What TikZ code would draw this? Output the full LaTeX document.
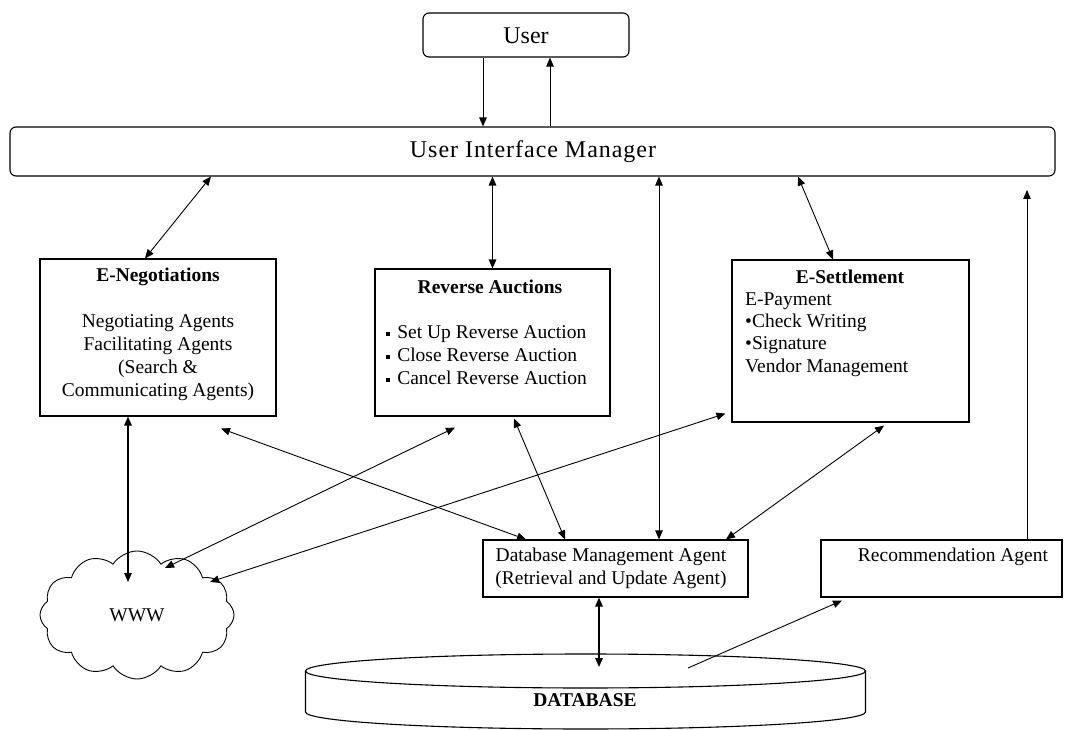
\documentclass[tikz,border=0pt]{standalone}
\usepackage{fontspec}
\setmainfont{Liberation Serif}
\usetikzlibrary{arrows.meta,shapes.symbols}
% small square bullet for the auction items
\newcommand\sqbul{\raisebox{0.28ex}{\rule{0.22em}{0.22em}}\hspace{0.35em}}
\begin{document}
\begin{tikzpicture}[x=1pt,y=-1pt,
  box/.style={draw, line width=1.1pt, inner sep=0pt},
  rbox/.style={box, rounded corners=6pt},
  txt/.style={inner sep=0pt, font=\fontsize{19.5pt}{23pt}\selectfont},
  bigtxt/.style={inner sep=0pt, font=\fontsize{24pt}{28pt}\selectfont},
  tip/.tip={Triangle[length=9pt,width=7.5pt]},
  arr/.style={-tip, line width=0.9pt},
  darr/.style={tip-tip, line width=0.9pt},
  thick arr/.style={darr, line width=1.5pt}]
\useasboundingbox (0,0) rectangle (1074,730);

% top boxes
\node[rbox, minimum width=206pt, minimum height=44pt] (user) at (526,35) {};
\node[bigtxt] at (526,36) {User};
\node[rbox, minimum width=1045pt, minimum height=49pt] (uim) at (532.5,151.5) {};
\node[bigtxt, font=\fontsize{24pt}{28pt}\selectfont\addfontfeatures{LetterSpace=4}] at (533,152) {User Interface Manager};

% agent boxes
\node[box, minimum width=236pt, minimum height=157pt] (eneg) at (158,337.5) {};
\node[txt, font=\fontsize{19.5pt}{23pt}\selectfont\bfseries] at (158,277) {E-Negotiations};
\node[txt, align=center] at (158,357.5) {Negotiating Agents\\Facilitating Agents\\(Search \&\\Communicating Agents)};

\node[box, minimum width=235pt, minimum height=147pt] (rev) at (492.5,342.5) {};
\node[txt, font=\fontsize{19.5pt}{23pt}\selectfont\bfseries] at (490,287) {Reverse Auctions};
\node[txt, align=left, anchor=west] at (386,355) {\sqbul Set Up Reverse Auction\\\sqbul Close Reverse Auction\\\sqbul Cancel Reverse Auction};

\node[box, minimum width=237pt, minimum height=162pt] (eset) at (850.5,341) {};
\node[txt, font=\fontsize{19.5pt}{23pt}\selectfont\bfseries] at (850,277) {E-Settlement};
\node[txt, align=left, anchor=west, font=\fontsize{19.5pt}{22.4pt}\selectfont] at (745,334.5) {E-Payment\\\textbullet Check Writing\\\textbullet Signature\\Vendor Management};

\node[box, minimum width=265pt, minimum height=57pt] (dba) at (615.5,568.5) {};
\node[txt, align=center] at (611,568.5) {Database Management Agent\\(Retrieval and Update Agent)};

\node[box, minimum width=241pt, minimum height=57pt] (rec) at (941.5,568.5) {};
\node[txt] at (953,557) {Recommendation Agent};

% the web
\node[draw, line width=0.9pt, cloud, cloud puffs=12, cloud puff arc=115, aspect=1.5,
      minimum width=194pt, minimum height=128pt, inner sep=0pt,
      font=\fontsize{19.5pt}{23pt}\selectfont] (www) at (137,615) {WWW};

% database drum
\node[minimum width=560pt, minimum height=75pt, inner sep=0pt] (db) at (585.5,691.5) {};
\draw[line width=1.1pt] (585.5,671) ellipse [x radius=280pt, y radius=17pt];
\draw[line width=1.1pt] (305.5,671) -- (305.5,712)
  arc[start angle=180, end angle=360, x radius=280pt, y radius=17pt] -- (865.5,671);
\node[txt, font=\fontsize{19.5pt}{23pt}\selectfont\bfseries] at (585,700) {DATABASE};

\coordinate (recup) at (1027,190);

% connectors
\draw[arr] ([xshift=-43pt]user.south) -- ([xshift=-49.5pt]uim.north);
\draw[arr] ([xshift=17.5pt]uim.north) -- ([xshift=24pt]user.south);
\draw[darr] ([xshift=-321.5pt]uim.south) -- ([xshift=-13pt]eneg.north);
\draw[thick arr] (rev.north |- uim.south) -- (rev.north);
\draw[darr] ([xshift=126.5pt]uim.south) -- ([xshift=43.5pt]dba.north);
\draw[darr] ([xshift=265.5pt]uim.south) -- ([xshift=-17.5pt]eset.north);
\draw[arr] ([xshift=85.5pt]rec.north) -- (recup);
\draw[thick arr] ([xshift=-30pt]eneg.south) -- ([xshift=-9pt,yshift=33pt]www.center);
\draw[darr] ([xshift=63pt,yshift=-12pt]eneg.south) -- ([xshift=-89.5pt]dba.north);
\draw[darr] ([xshift=-37.5pt,yshift=-11pt]rev.south) -- ([xshift=28pt,yshift=47pt]www.center);
\draw[darr] ([xshift=21.5pt,yshift=-2pt]rev.south) -- ([xshift=-50.5pt]dba.north);
\draw[darr] ([xshift=-6pt,yshift=9pt]eset.south west) -- ([xshift=73pt,yshift=33pt]www.center);
\draw[darr] ([xshift=33.5pt,yshift=-3pt]eset.south) -- ([xshift=110.5pt]dba.north);
\draw[thick arr] ([xshift=-16.5pt]dba.south) -- ([xshift=13.5pt,yshift=24.5pt]db.center);
\draw[arr] ([xshift=102.5pt,yshift=23.5pt]db.center) -- ([xshift=-99.5pt,yshift=-3pt]rec.south);
\end{tikzpicture}
\end{document}
